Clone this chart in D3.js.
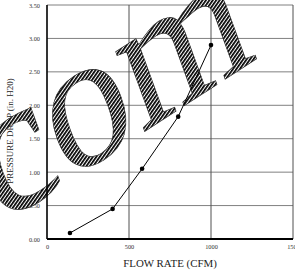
<!DOCTYPE html>
<html>
<head>
<meta charset="utf-8">
<script src="https://cdn.jsdelivr.net/npm/d3@7"></script>
<style>
  body { margin: 0; background: #fff; }
  svg { display: block; }
</style>
</head>
<body>
<div id="chart"></div>
<script>
// data
var flowRate = [140, 400, 580, 800, 1000];
var pressureDrop = [0.09, 0.45, 1.05, 1.83, 2.90];
var xTicks = [0, 500, 1000, 1500];
var xTickLabels = ["0", "500", "1000", "1500"];
var yTicks = [0, 0.5, 1, 1.5, 2, 2.5, 3, 3.5];
var yTickLabels = ["0.00", "0.50", "1.00", "1.50", "2.00", "2.50", "3.00", "3.50"];
var xTitle = "FLOW RATE (CFM)";
var yTitle = "PRESSURE DROP (in. H20)";
var watermark = "com";

var width = 295, height = 278;
var plotL = 47, plotR = 293, plotT = 5, plotB = 239;
var serif = "'Liberation Serif', 'DejaVu Serif', serif";

var x = d3.scaleLinear().domain([0, 1500]).range([plotL, plotR]);
var y = d3.scaleLinear().domain([0, 3.5]).range([plotB, plotT]);

var svg = d3.select("#chart").append("svg")
  .attr("width", width)
  .attr("height", height);

var defs = svg.append("defs");
var pat = defs.append("pattern")
  .attr("id", "hatch")
  .attr("patternUnits", "userSpaceOnUse")
  .attr("width", 2.8)
  .attr("height", 2.8)
  .attr("patternTransform", "rotate(35)");
pat.append("rect").attr("width", 2.8).attr("height", 2.8).attr("fill", "#fff");
pat.append("rect").attr("width", 1.7).attr("height", 2.8).attr("fill", "#000");

// big slanted watermark text
var wmTransform = "translate(-1,226) rotate(-33) skewX(-13)";
defs.append("clipPath").attr("id", "wmClip")
  .append("text")
  .attr("transform", wmTransform)
  .attr("font-family", serif)
  .attr("font-size", 180)
  .text(watermark);

// gridlines
svg.append("g").selectAll("line")
  .data(yTicks)
  .enter().append("line")
  .attr("x1", plotL).attr("x2", plotR)
  .attr("y1", function (d) { return y(d); })
  .attr("y2", function (d) { return y(d); })
  .attr("stroke", "#808080")
  .attr("stroke-width", 1);

svg.append("g").selectAll("line")
  .data(xTicks.slice(1))
  .enter().append("line")
  .attr("x1", function (d) { return x(d); })
  .attr("x2", function (d) { return x(d); })
  .attr("y1", plotT).attr("y2", plotB)
  .attr("stroke", "#505050")
  .attr("stroke-width", 1);

// tick labels
var yAxis = d3.axisLeft(y).tickValues(yTicks).tickSize(0).tickPadding(7)
  .tickFormat(function (d, i) { return yTickLabels[i]; });
var gy = svg.append("g").attr("transform", "translate(" + plotL + ",0)").call(yAxis);
gy.select(".domain").remove();
gy.selectAll("text").attr("font-family", serif).attr("font-size", 6.3).attr("fill", "#333");

var xAxis = d3.axisBottom(x).tickValues(xTicks).tickSize(0).tickPadding(6)
  .tickFormat(function (d, i) { return xTickLabels[i]; });
var gx = svg.append("g").attr("transform", "translate(0," + plotB + ")").call(xAxis);
gx.select(".domain").remove();
gx.selectAll("text").attr("font-family", serif).attr("font-size", 6.3).attr("fill", "#333");

// titles
svg.append("text")
  .attr("x", (plotL + plotR) / 2)
  .attr("y", 267)
  .attr("text-anchor", "middle")
  .attr("font-family", serif)
  .attr("font-size", 10.9)
  .attr("fill", "#222")
  .text(xTitle);

svg.append("text")
  .attr("transform", "translate(13,131) rotate(-90)")
  .attr("text-anchor", "middle")
  .attr("font-family", serif)
  .attr("font-size", 9)
  .attr("fill", "#222")
  .text(yTitle);

// watermark: hatched letters over the grid
svg.append("rect")
  .attr("width", width).attr("height", height)
  .attr("fill", "url(#hatch)")
  .attr("clip-path", "url(#wmClip)");
svg.append("text")
  .attr("transform", wmTransform)
  .attr("font-family", serif)
  .attr("font-size", 180)
  .attr("fill", "none")
  .attr("stroke", "#222")
  .attr("stroke-width", 0.6)
  .text(watermark);

// axis lines
svg.append("line")
  .attr("x1", plotL).attr("x2", plotL).attr("y1", plotT).attr("y2", plotB)
  .attr("stroke", "#000").attr("stroke-width", 1.6);
svg.append("line")
  .attr("x1", plotL).attr("x2", plotR).attr("y1", plotB).attr("y2", plotB)
  .attr("stroke", "#000").attr("stroke-width", 1.8);

// series
var pts = flowRate.map(function (d, i) { return [d, pressureDrop[i]]; });
var line = d3.line()
  .x(function (d) { return x(d[0]); })
  .y(function (d) { return y(d[1]); });

svg.append("path")
  .datum(pts)
  .attr("d", line)
  .attr("fill", "none")
  .attr("stroke", "#000")
  .attr("stroke-width", 1);

svg.append("g").selectAll("circle")
  .data(pts)
  .enter().append("circle")
  .attr("cx", function (d) { return x(d[0]); })
  .attr("cy", function (d) { return y(d[1]); })
  .attr("r", 2.3)
  .attr("fill", "#000");
</script>
</body>
</html>
